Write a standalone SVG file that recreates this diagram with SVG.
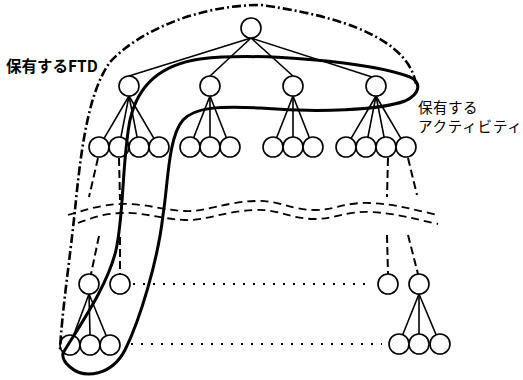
<svg xmlns="http://www.w3.org/2000/svg" width="523" height="380" viewBox="0 0 523 380">
  <style>
    .node circle { fill: #fff; stroke: #000; stroke-width: 1.6; }
    .edge { stroke: #000; stroke-width: 1.6; fill: none; stroke-linecap: round; }
    .dash { stroke: #000; stroke-width: 2; fill: none; stroke-dasharray: 8 4; }
    .dot { stroke: #000; stroke-width: 2; fill: none; stroke-dasharray: 2 8; }
    .wave { stroke: #000; stroke-width: 1.8; fill: none; stroke-dasharray: 8 5; }
    .ftd { stroke: #000; stroke-width: 2.6; fill: none; stroke-dasharray: 9 3 2 3; }
    .act { stroke: #000; stroke-width: 3; fill: none; stroke-linejoin: round; }
    .label { font-family: "Noto Sans CJK JP", "Noto Sans", sans-serif; fill: #000; }
  </style>
  <rect width="523" height="380" fill="#fff"/>

  <g id="connectors">
    <!-- root to level 1 -->
    <line class="edge" x1="251" y1="38" x2="129" y2="76"/>
    <line class="edge" x1="251" y1="38" x2="210" y2="76"/>
    <line class="edge" x1="251" y1="38" x2="293" y2="76"/>
    <line class="edge" x1="251" y1="38" x2="372" y2="77"/>
    <!-- level 1 to level 2 -->
    <line class="edge" x1="129" y1="96" x2="104.1" y2="138.4"/>
    <line class="edge" x1="129" y1="96" x2="120.9" y2="137.2"/>
    <line class="edge" x1="129" y1="96" x2="137.1" y2="137.2"/>
    <line class="edge" x1="129" y1="96" x2="153.9" y2="138.4"/>
    <line class="edge" x1="210" y1="96" x2="193.6" y2="137.7"/>
    <line class="edge" x1="210" y1="96" x2="210" y2="137"/>
    <line class="edge" x1="210" y1="96" x2="226.4" y2="137.7"/>
    <line class="edge" x1="293" y1="96" x2="276.6" y2="137.7"/>
    <line class="edge" x1="293" y1="96" x2="293" y2="137"/>
    <line class="edge" x1="293" y1="96" x2="309.4" y2="137.7"/>
    <line class="edge" x1="376" y1="96" x2="351.1" y2="138.4"/>
    <line class="edge" x1="376" y1="96" x2="367.9" y2="137.2"/>
    <line class="edge" x1="376" y1="96" x2="384.1" y2="137.2"/>
    <line class="edge" x1="376" y1="96" x2="400.9" y2="138.4"/>
    <!-- omitted levels -->
    <line class="dash" x1="98" y1="158" x2="89" y2="197"/>
    <line class="dash" x1="119" y1="158" x2="120" y2="200"/>
    <line class="dash" x1="388" y1="158" x2="387" y2="197"/>
    <line class="dash" x1="408" y1="158" x2="417" y2="195"/>
    <line class="dash" x1="99" y1="236" x2="91" y2="274"/>
    <line class="dash" x1="120" y1="237" x2="120" y2="274"/>
    <line class="dash" x1="387" y1="235" x2="388" y2="274"/>
    <line class="dash" x1="408" y1="235" x2="418" y2="274"/>
    <!-- break marks -->
    <path class="wave" d="M68,215 C85,210 100,205 120,204 C145,203 160,210 185,211 C205,212 225,202 255,201 C280,200 290,210 315,210 C335,210 345,202 370,203 C395,204 415,210 438,215"/>
    <path class="wave" d="M78,223 C90,219 100,214 120,213 C145,212 160,219 185,220 C205,221 225,211 255,210 C280,209 290,219 315,219 C335,219 345,211 370,212 C395,213 415,219 438,224"/>
    <!-- bottom level trees -->
    <line class="edge" x1="89" y1="294" x2="73.5" y2="335.6"/>
    <line class="edge" x1="89" y1="294" x2="90" y2="335"/>
    <line class="edge" x1="89" y1="294" x2="106.2" y2="335.7"/>
    <line class="edge" x1="419" y1="294" x2="402.7" y2="334.7"/>
    <line class="edge" x1="419" y1="294" x2="419" y2="334"/>
    <line class="edge" x1="419" y1="294" x2="436.1" y2="334.8"/>
    <!-- same-level links -->
    <line class="dot" x1="133" y1="284" x2="370" y2="284"/>
    <line class="dot" x1="131" y1="344" x2="382" y2="344"/>
  </g>

  <g id="root" class="node"><circle cx="251" cy="28" r="10"/></g>

  <g id="n1" class="node"><circle cx="129" cy="86" r="10"/></g>
  <g id="n2" class="node"><circle cx="210" cy="86" r="10"/></g>
  <g id="n3" class="node"><circle cx="293" cy="86" r="10"/></g>
  <g id="n4" class="node"><circle cx="376" cy="86" r="10"/></g>

  <g id="n1-1" class="node"><circle cx="99" cy="147" r="10"/></g>
  <g id="n1-2" class="node"><circle cx="119" cy="147" r="10"/></g>
  <g id="n1-3" class="node"><circle cx="139" cy="147" r="10"/></g>
  <g id="n1-4" class="node"><circle cx="159" cy="147" r="10"/></g>
  <g id="n2-1" class="node"><circle cx="190" cy="147" r="10"/></g>
  <g id="n2-2" class="node"><circle cx="210" cy="147" r="10"/></g>
  <g id="n2-3" class="node"><circle cx="230" cy="147" r="10"/></g>
  <g id="n3-1" class="node"><circle cx="273" cy="147" r="10"/></g>
  <g id="n3-2" class="node"><circle cx="293" cy="147" r="10"/></g>
  <g id="n3-3" class="node"><circle cx="313" cy="147" r="10"/></g>
  <g id="n4-1" class="node"><circle cx="346" cy="147" r="10"/></g>
  <g id="n4-2" class="node"><circle cx="366" cy="147" r="10"/></g>
  <g id="n4-3" class="node"><circle cx="386" cy="147" r="10"/></g>
  <g id="n4-4" class="node"><circle cx="406" cy="147" r="10"/></g>

  <g id="m1" class="node"><circle cx="89" cy="284" r="10"/></g>
  <g id="m2" class="node"><circle cx="120" cy="284" r="10"/></g>
  <g id="m3" class="node"><circle cx="388" cy="284" r="10"/></g>
  <g id="m4" class="node"><circle cx="419" cy="284" r="10"/></g>

  <g id="b1" class="node"><circle cx="70" cy="345" r="10"/></g>
  <g id="b2" class="node"><circle cx="90" cy="345" r="10"/></g>
  <g id="b3" class="node"><circle cx="110" cy="345" r="10"/></g>
  <g id="b4" class="node"><circle cx="399" cy="344" r="10"/></g>
  <g id="b5" class="node"><circle cx="419" cy="344" r="10"/></g>
  <g id="b6" class="node"><circle cx="440" cy="344" r="10"/></g>

  <!-- held FTD boundary (dash-dot) -->
  <path class="ftd" d="M416,84 C410,50 370,20 261,5 C200,5 140,30 110,62 C90,90 82,140 76,200 C70,260 62,310 60,350"/>
  <!-- held activity boundary (solid loop) -->
  <path class="act" d="M63,353 C80,325 108,285 116,250 C124,215 122,160 130,120 C138,85 160,65 200,59 C260,52 370,62 410,77 C422,83 420,94 405,101 C380,110 320,113 260,108 C220,106 195,107 183,120 C168,137 168,185 163,215 C158,260 140,320 125,350 C112,375 85,380 70,367 C64,362 62,358 63,353 Z"/>

  <g id="labels">
    <text class="label" x="6" y="72" font-size="15.5" font-weight="bold">保有するFTD</text>
    <text class="label" x="418" y="112.5" font-size="14.5" letter-spacing="0.5">保有する</text>
    <text class="label" x="418" y="132" font-size="14.5" letter-spacing="0.8">アクティビティ</text>
  </g>
</svg>
